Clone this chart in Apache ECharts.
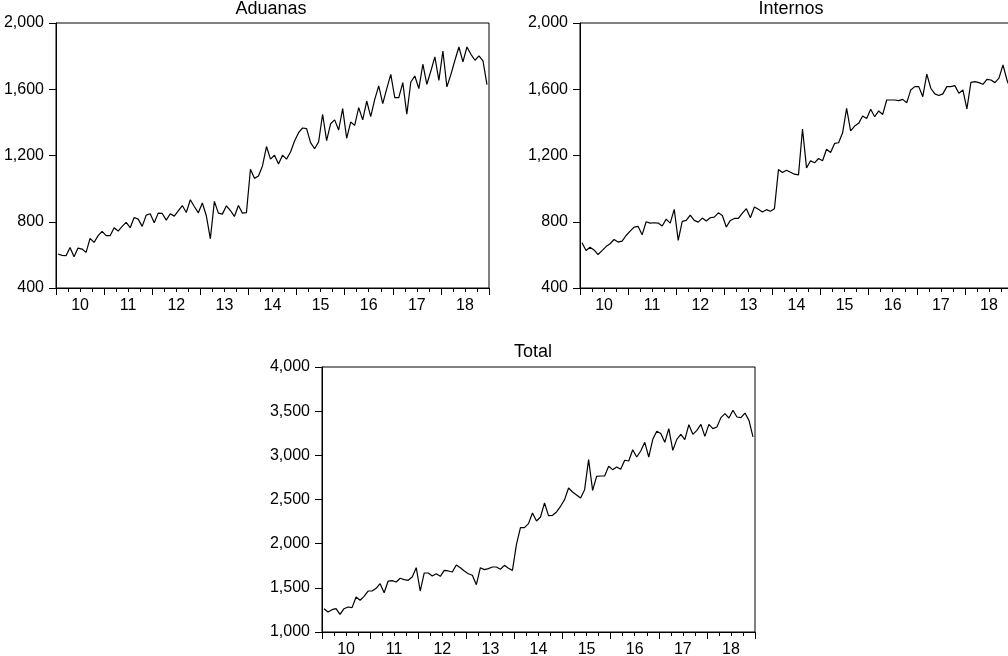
<!DOCTYPE html>
<html>
<head>
<meta charset="utf-8">
<script src="https://cdn.jsdelivr.net/npm/echarts@6/dist/echarts.min.js"></script>
<style>
html,body{margin:0;padding:0;background:#fff;}
#c{width:1008px;height:656px;}
</style>
</head>
<body>
<div id="c"></div>
<script>
// ---- data (monthly, 2010M01 .. 2018M12) ----
const yearLabels = ['10','11','12','13','14','15','16','17','18'];

const aduanas = [
  605,597,595,645,589,641,635,615,700,675,716,742,
  716,716,764,744,772,796,764,826,816,772,840,848,
  794,852,850,810,848,834,866,898,856,933,892,854,
  913,836,697,923,852,846,896,868,832,898,852,855,
  1117,1062,1076,1137,1254,1178,1202,1149,1202,1178,1221,1288,
  1338,1366,1362,1278,1241,1282,1449,1290,1392,1415,1354,1483,
  1304,1402,1382,1489,1415,1529,1435,1539,1620,1513,1604,1690,
  1549,1549,1640,1449,1644,1680,1604,1751,1630,1710,1795,1654,
  1831,1614,1690,1775,1855,1765,1855,1811,1775,1801,1771,1628
];

const internos = [
  673,626,646,630,602,626,650,667,693,677,683,717,
  743,768,772,721,800,792,794,792,774,816,792,875,
  687,802,808,840,808,798,822,804,824,828,854,838,
  768,808,820,820,852,879,824,889,875,859,873,863,
  879,1115,1097,1111,1099,1087,1083,1360,1125,1168,1156,1182,
  1168,1238,1218,1273,1277,1337,1485,1349,1378,1394,1438,1424,
  1479,1434,1469,1448,1535,1535,1535,1531,1539,1519,1596,1616,
  1616,1555,1691,1606,1572,1562,1572,1616,1616,1622,1576,1596,
  1481,1642,1646,1640,1630,1660,1656,1640,1667,1747,1656,1590
];

const total = [
  1264,1226,1253,1264,1200,1264,1283,1276,1396,1359,1404,1464,
  1464,1494,1547,1445,1577,1581,1566,1608,1593,1585,1623,1728,
  1464,1668,1668,1634,1660,1630,1698,1691,1679,1759,1728,1691,
  1660,1642,1536,1728,1706,1717,1736,1736,1710,1755,1721,1698,
  1993,2181,2181,2227,2347,2257,2302,2461,2317,2321,2359,2423,
  2498,2630,2585,2551,2517,2611,2951,2604,2762,2766,2766,2876,
  2838,2868,2842,2944,2936,3064,2981,3049,3147,2981,3181,3272,
  3246,3147,3302,3057,3181,3238,3178,3347,3238,3283,3351,3215,
  3351,3302,3321,3427,3472,3423,3510,3434,3427,3479,3396,3208
];

const seriesNames = ['Aduanas','Internos','Total'];
const seriesValues = [aduanas, internos, total];

// ---- layout / style (kept separate from data) ----
const FONT = 'Arial, "Liberation Sans", sans-serif';
const layouts = [
  {left:56,  top:23,  width:433, height:265, min:400,  max:2000, interval:400, titleX:271, titleY:0},
  {left:580, top:23,  width:433, height:265, min:400,  max:2000, interval:400, titleX:791, titleY:0},
  {left:322, top:367, width:433, height:265, min:1000, max:4000, interval:500, titleX:533, titleY:343}
];
const nMonths = aduanas.length;

const grid = [], xAxis = [], yAxis = [], series = [], title = [];
layouts.forEach((L, k) => {
  grid.push({left:L.left, top:L.top, width:L.width, height:L.height,
    show:true, borderColor:'#000', borderWidth:1, backgroundColor:'transparent',
    containLabel:false, outerBoundsMode:'none'});
  // value axis carrying the month positions and quarter / year ticks
  xAxis.push({type:'value', gridIndex:k, min:0, max:nMonths, interval:12, position:'bottom',
    axisLine:{show:true, onZero:false, lineStyle:{color:'#000', width:1}},
    axisTick:{show:true, length:7, lineStyle:{color:'#000', width:1}},
    minorTick:{show:true, splitNumber:4, length:4, lineStyle:{color:'#000', width:1}},
    axisLabel:{show:false}, splitLine:{show:false}, minorSplitLine:{show:false}});
  // category axis for the year labels centred in each year
  xAxis.push({type:'category', gridIndex:k, data:yearLabels, boundaryGap:true, position:'bottom',
    axisLine:{show:false}, axisTick:{show:false}, splitLine:{show:false},
    axisLabel:{show:true, color:'#000', fontSize:16, fontFamily:FONT, margin:10, interval:0}});
  yAxis.push({type:'value', gridIndex:k, min:L.min, max:L.max, interval:L.interval,
    axisLine:{show:true, lineStyle:{color:'#000', width:1}},
    axisTick:{show:true, length:7, lineStyle:{color:'#000', width:1}},
    splitLine:{show:false},
    axisLabel:{show:true, color:'#000', fontSize:16, fontFamily:FONT, margin:12,
      padding:[0,0,7,0],
      formatter: v => v.toLocaleString('en-US')}});
  series.push({type:'line', name:seriesNames[k], xAxisIndex:2*k, yAxisIndex:k,
    data: seriesValues[k].map((v,i) => [i + 0.5, v]),
    showSymbol:false, symbol:'none', clip:true,
    lineStyle:{color:'#000', width:1.2}, animation:false});
  title.push({text:seriesNames[k], left:L.titleX, top:L.titleY, textAlign:'center', padding:0,
    textStyle:{color:'#000', fontSize:18, fontWeight:'normal', fontFamily:FONT}});
});

const chart = echarts.init(document.getElementById('c'), null, {renderer:'canvas'});
chart.setOption({
  backgroundColor:'#fff',
  animation:false,
  title, grid, xAxis, yAxis, series
});
</script>
</body>
</html>
